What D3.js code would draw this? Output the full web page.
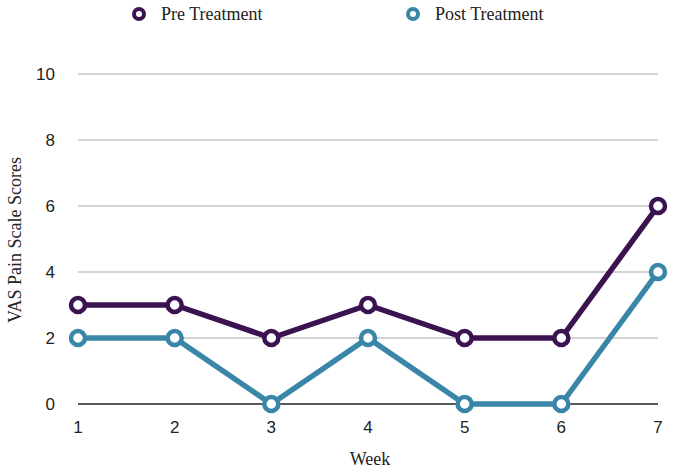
<!DOCTYPE html>
<html><head><meta charset="utf-8">
<script src="https://cdn.jsdelivr.net/npm/d3@7"></script>
<style>
body{margin:0;background:#fff}
.sans{font-family:'Liberation Sans',Arial,Helvetica,sans-serif}
.serif{font-family:'Liberation Serif','Times New Roman',Times,serif}
</style>
</head><body>
<script>
const weeks = [1,2,3,4,5,6,7];
const preTreatment = [3,3,2,3,2,2,6];
const postTreatment = [2,2,0,2,0,0,4];
const yTicks = [0,2,4,6,8,10];
const seriesNames = ["Pre Treatment","Post Treatment"];
const colors = ["#3b1350","#3a86a8"];

const W=677,H=473;
const svg=d3.select("body").append("svg").attr("width",W).attr("height",H);
const x=d3.scaleLinear().domain([1,7]).range([78,658]);
const y=d3.scaleLinear().domain([0,10]).range([404,74]);

// gridlines
svg.append("g").selectAll("line").data(yTicks.filter(d=>d>0)).join("line")
  .attr("x1",x(1)).attr("x2",x(7)).attr("y1",d=>y(d)).attr("y2",d=>y(d))
  .attr("stroke","#c4c4c4").attr("stroke-width",1.3);
svg.append("line").attr("x1",x(1)).attr("x2",x(7)).attr("y1",y(0)).attr("y2",y(0))
  .attr("stroke","#222").attr("stroke-width",1.3);

// y tick labels
svg.append("g").selectAll("text").data(yTicks).join("text").attr("class","sans")
  .attr("x",55).attr("y",d=>y(d)).attr("dy","0.35em").attr("text-anchor","end")
  .attr("font-size",17).attr("fill","#222")
  .text(d=>d);
// x tick labels
svg.append("g").selectAll("text").data(weeks).join("text").attr("class","sans")
  .attr("x",d=>x(d)).attr("y",427).attr("dy","0.35em").attr("text-anchor","middle")
  .attr("font-size",17).attr("fill","#222")
  .text(d=>d);

// axis titles
svg.append("text").attr("class","serif").attr("x",370).attr("y",459).attr("dy","0.35em").attr("text-anchor","middle")
  .attr("font-size",18).attr("fill","#222").text("Week");
svg.append("text").attr("class","serif").attr("transform","translate(15,240) rotate(-90)").attr("dy","0.35em").attr("text-anchor","middle")
  .attr("font-size",18).attr("fill","#222").text("VAS Pain Scale Scores");

const line=d3.line().x((d,i)=>x(weeks[i])).y(d=>y(d));
[preTreatment,postTreatment].forEach((vals,k)=>{
  const g=svg.append("g");
  g.append("path").attr("d",line(vals)).attr("fill","none").attr("stroke",colors[k]).attr("stroke-width",5.5).attr("stroke-linejoin","round");
  g.selectAll("circle").data(vals).join("circle")
    .attr("cx",(d,i)=>x(weeks[i])).attr("cy",d=>y(d)).attr("r",7)
    .attr("fill","#fff").attr("stroke",colors[k]).attr("stroke-width",4.5);
});

// legend
const legX=[139,413];
seriesNames.forEach((n,k)=>{
  svg.append("circle").attr("cx",legX[k]).attr("cy",14).attr("r",5).attr("fill","#fff").attr("stroke",colors[k]).attr("stroke-width",4);
  svg.append("text").attr("class","serif").attr("x",legX[k]+22).attr("y",14).attr("dy","0.35em")
    .attr("font-size",18).attr("fill","#222").text(n);
});
</script>
</body></html>
